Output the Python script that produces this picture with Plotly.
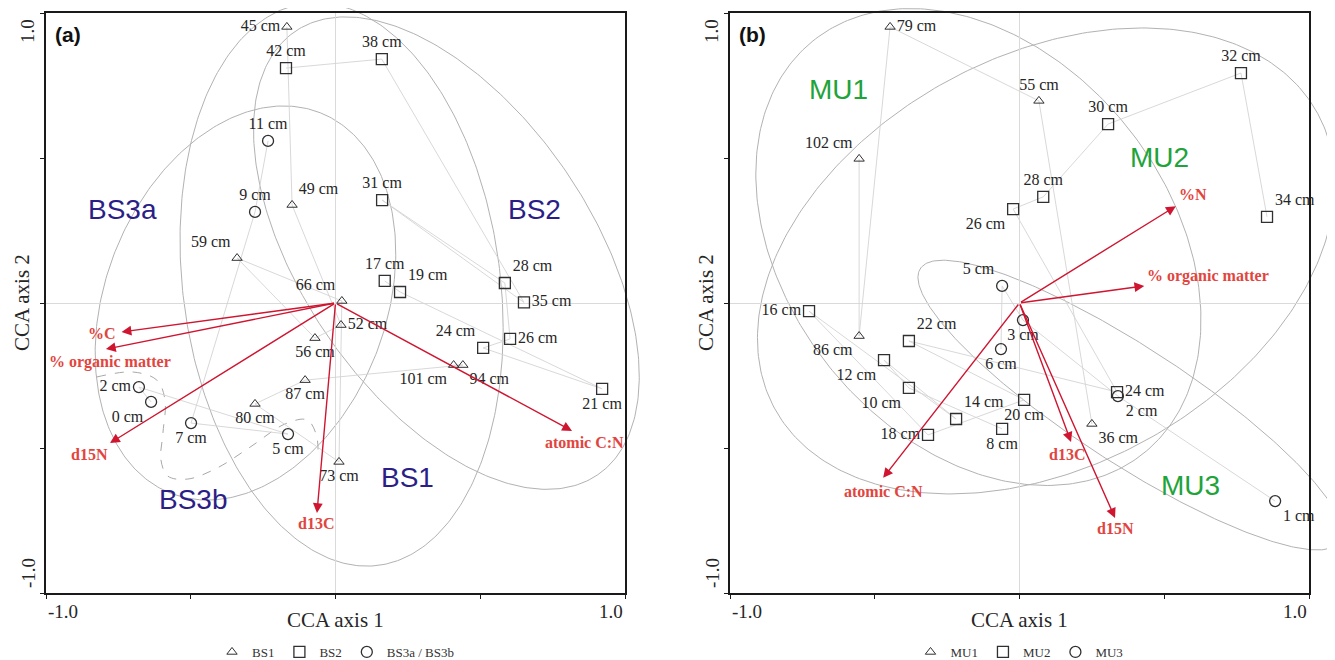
import numpy as np
import plotly.graph_objects as go

W, H = 1335, 660
OFF = 8  # page body margin of the viewer, compensated in the layout

# ---------------- panel (a) data ----------------
BS1_DEPTH = [45, 49, 52, 56, 59, 66, 73, 80, 87, 94, 101]
BS1_X = [-0.168, -0.150, 0.019, -0.071, -0.340, 0.022, 0.012, -0.278, -0.105, 0.440, 0.408]
BS1_Y = [0.952, 0.338, -0.076, -0.121, 0.155, 0.007, -0.548, -0.348, -0.266, -0.214, -0.214]
BS1_POS = ['middle left', 'top right', 'middle right', 'bottom center', 'top left', 'top left',
           'bottom center', 'bottom center', 'bottom center', 'bottom right', 'bottom left']

BS2_DEPTH = [17, 19, 21, 24, 26, 28, 31, 35, 38, 42]
BS2_X = [0.170, 0.223, 0.921, 0.510, 0.603, 0.585, 0.161, 0.651, 0.160, -0.171]
BS2_Y = [0.076, 0.038, -0.296, -0.155, -0.124, 0.069, 0.355, 0.002, 0.841, 0.810]
BS2_POS = ['top center', 'top right', 'bottom center', 'top left', 'middle right', 'top right',
           'top center', 'middle right', 'top center', 'top center']

BS3_DEPTH = [0, 2, 5, 7, 9, 11]
BS3_X = [-0.637, -0.679, -0.164, -0.499, -0.278, -0.233]
BS3_Y = [-0.341, -0.290, -0.452, -0.414, 0.314, 0.559]
BS3_POS = ['bottom left', 'middle left', 'bottom center', 'bottom center', 'top center', 'top center']

A_VARS = ['%C', '% organic matter', 'd15N', 'd13C', 'atomic C:N']
A_VX = [-0.739, -0.793, -0.779, -0.064, 0.817]
A_VY = [-0.100, -0.159, -0.483, -0.724, -0.441]

# ellipses: centre x, centre y, semi-major, semi-minor, angle (deg)
BS1_ELL = (0.021, 0.064, 0.977, 0.548, 97.5)
BS2_ELL = (0.383, 0.172, 0.926, 0.500, -55.6)
BS3A_ELL = (-0.311, 0.000, 0.705, 0.484, 68.5)
# hand-drawn BS3b outline
BS3B_X = [-0.824, -0.699, -0.617, -0.589, -0.596, -0.603, -0.579, -0.510, -0.409, -0.295,
          -0.174, -0.098, -0.067, -0.060]
BS3B_Y = [-0.255, -0.238, -0.266, -0.334, -0.448, -0.541, -0.597, -0.607, -0.569, -0.497,
          -0.417, -0.403, -0.452, -0.514]

A_GROUP_TEXT = ['BS3a', 'BS2', 'BS3b', 'BS1']
A_GROUP_X = [-0.736, 0.686, -0.489, 0.249]
A_GROUP_Y = [0.321, 0.321, -0.679, -0.603]

# ---------------- panel (b) data ----------------
MU1_DEPTH = [36, 55, 79, 86, 102]
MU1_X = [0.250, 0.067, -0.447, -0.554, -0.554]
MU1_Y = [-0.417, 0.697, 0.952, -0.114, 0.497]
MU1_POS = ['bottom right', 'top center', 'middle right', 'bottom left', 'top left']

MU2_DEPTH = [8, 10, 12, 14, 16, 18, 20, 22, 24, 26, 28, 30, 32, 34]
MU2_X = [-0.060, -0.382, -0.468, -0.219, -0.727, -0.316, 0.016, -0.382, 0.337, -0.022,
         0.082, 0.306, 0.765, 0.855]
MU2_Y = [-0.434, -0.293, -0.197, -0.400, -0.028, -0.455, -0.334, -0.131, -0.307, 0.324,
         0.366, 0.617, 0.793, 0.297]
MU2_POS = ['bottom center', 'bottom left', 'bottom left', 'top right', 'middle left', 'middle left',
           'bottom center', 'top right', 'middle right', 'bottom left', 'top center', 'top center',
           'top center', 'top right']

MU3_DEPTH = [1, 2, 3, 5, 6]
MU3_X = [0.883, 0.340, 0.012, -0.060, -0.064]
MU3_Y = [-0.683, -0.321, -0.059, 0.059, -0.159]
MU3_POS = ['bottom right', 'bottom right', 'bottom center', 'top left', 'bottom center']

B_VARS = ['%N', '% organic matter', 'atomic C:N', 'd13C', 'd15N']
B_VX = [0.540, 0.431, -0.471, 0.178, 0.330]
B_VY = [0.334, 0.059, -0.603, -0.479, -0.741]

MU1_ELL = (-0.142, 0.193, 0.912, 0.660, 128.8)
MU2_ELL = (0.092, 0.145, 1.067, 0.708, 28.4)
MU3_ELL = (0.382, -0.352, 0.864, 0.200, -33.0)

B_GROUP_TEXT = ['MU1', 'MU2', 'MU3']
B_GROUP_X = [-0.625, 0.485, 0.589]
B_GROUP_Y = [0.736, 0.503, -0.631]

# ---------------- styling ----------------
SERIF = 'Liberation Serif, Times New Roman, serif'
SANS = 'Liberation Sans, Arial, sans-serif'
INK = '#262626'
ELL_COLOR = '#b2b2b2'
LINK_COLOR = '#d4d4d4'
ARROW_COLOR = '#cf1530'
VAR_COLOR = '#e2443e'

A_DOM = [(46 - OFF) / W, (625 - OFF) / W]
B_DOM = [(730 - OFF) / W, (1309 - OFF) / W]
Y_DOM = [1 - (593 - OFF) / H, 1 - (13 - OFF) / H]

# label placement for variable names (anchor, xshift, yshift)
A_VAR_PLACE = [('right', -4, -1), ('center', 4, -13), ('right', 0, -11), ('center', -1, -11), ('center', 12, -12)]
B_VAR_PLACE = [('left', 1, 12), ('left', 1, 10), ('center', 0, -14), ('center', -4, -13), ('center', 0, -11)]


def overlay_range(dom):
    span = 2.0 / (dom[1] - dom[0])
    return [-1 - dom[0] * span, -1 + (1 - dom[0]) * span]


def ellipse_xy(e, n=361):
    cx, cy, a, b, ang = e
    t = np.linspace(0, 2 * np.pi, n)
    th = np.deg2rad(ang)
    x = cx + a * np.cos(t) * np.cos(th) - b * np.sin(t) * np.sin(th)
    y = cy + a * np.cos(t) * np.sin(th) + b * np.sin(t) * np.cos(th)
    return x, y


fig = go.Figure()

panels = [
    dict(ov=('x', 'y'), ax=('x3', 'y3'), legend='legend',
         ellipses=[BS1_ELL, BS2_ELL, BS3A_ELL],
         groups=[('BS1', BS1_DEPTH, BS1_X, BS1_Y, BS1_POS, 'triangle-up-open', 9),
                 ('BS2', BS2_DEPTH, BS2_X, BS2_Y, BS2_POS, 'square-open', 11),
                 ('BS3a / BS3b', BS3_DEPTH, BS3_X, BS3_Y, BS3_POS, 'circle-open', 11)],
         vars=(A_VARS, A_VX, A_VY, A_VAR_PLACE),
         gtext=(A_GROUP_TEXT, A_GROUP_X, A_GROUP_Y, '#2b1f87'),
         letter='(a)'),
    dict(ov=('x2', 'y2'), ax=('x4', 'y4'), legend='legend2',
         ellipses=[MU1_ELL, MU2_ELL, MU3_ELL],
         groups=[('MU1', MU1_DEPTH, MU1_X, MU1_Y, MU1_POS, 'triangle-up-open', 9),
                 ('MU2', MU2_DEPTH, MU2_X, MU2_Y, MU2_POS, 'square-open', 11),
                 ('MU3', MU3_DEPTH, MU3_X, MU3_Y, MU3_POS, 'circle-open', 11)],
         vars=(B_VARS, B_VX, B_VY, B_VAR_PLACE),
         gtext=(B_GROUP_TEXT, B_GROUP_X, B_GROUP_Y, '#1fa33b'),
         letter='(b)'),
]

annotations = []
for p in panels:
    ox, oy = p['ov']
    xr, yr = p['ax']
    # ellipses on full-figure overlay axes (not clipped at the frame)
    for e in p['ellipses']:
        ex, ey = ellipse_xy(e)
        fig.add_trace(go.Scatter(x=ex, y=ey, xaxis=ox, yaxis=oy, mode='lines',
                                 line=dict(color=ELL_COLOR, width=1), hoverinfo='skip',
                                 showlegend=False))
    if p['letter'] == '(a)':
        fig.add_trace(go.Scatter(x=BS3B_X, y=BS3B_Y, xaxis=xr, yaxis=yr, mode='lines',
                                 line=dict(color='#a8a8a8', width=1, dash='dash', shape='spline'),
                                 hoverinfo='skip', showlegend=False))
    # links between consecutive depths
    for name, dep, gx, gy, pos, sym, size in p['groups']:
        fig.add_trace(go.Scatter(x=gx, y=gy, xaxis=xr, yaxis=yr, mode='lines',
                                 line=dict(color=LINK_COLOR, width=0.9), hoverinfo='skip',
                                 showlegend=False))
    for name, dep, gx, gy, pos, sym, size in p['groups']:
        lw = 1.0 if sym.startswith('triangle') else 1.3
        fig.add_trace(go.Scatter(x=gx, y=gy, xaxis=xr, yaxis=yr, mode='markers', name=name,
                                 legend=p['legend'],
                                 marker=dict(symbol=sym, size=size, color='#303030',
                                             line=dict(width=lw, color='#303030'))))
        fig.add_trace(go.Scatter(x=gx, y=gy, xaxis=xr, yaxis=yr, mode='markers+text',
                                 text=[f'{d} cm' for d in dep], textposition=pos,
                                 textfont=dict(family=SERIF, size=16, color=INK),
                                 marker=dict(size=size, color='rgba(0,0,0,0)'),
                                 cliponaxis=False, hoverinfo='skip', showlegend=False))
    # environmental variable arrows
    names, vx, vy, place = p['vars']
    for nm, x1, y1, (anc, xs, ys) in zip(names, vx, vy, place):
        annotations.append(dict(x=x1, y=y1, xref=xr, yref=yr, ax=0, ay=0, axref=xr, ayref=yr,
                                text='', showarrow=True, arrowhead=2, arrowsize=1.4,
                                arrowwidth=1.4, arrowcolor=ARROW_COLOR, standoff=0))
        annotations.append(dict(x=x1, y=y1, xref=xr, yref=yr, text=nm, showarrow=False,
                                xanchor=anc, yanchor='middle', xshift=xs, yshift=ys,
                                font=dict(family=SERIF, size=16, color=VAR_COLOR, weight='bold')))
    # group names
    gt, gxs, gys, gcol = p['gtext']
    for t, gx, gy in zip(gt, gxs, gys):
        annotations.append(dict(x=gx, y=gy, xref=xr, yref=yr, text=t, showarrow=False,
                                font=dict(family=SANS, size=28, color=gcol)))
    # panel letter
    annotations.append(dict(x=-1, y=1, xref=xr, yref=yr, text='<b>' + p['letter'] + '</b>',
                            showarrow=False, xanchor='left', yanchor='top', xshift=7, yshift=-8,
                            font=dict(family=SANS, size=21, color='#111')))
    # tick labels
    tf = dict(family=SERIF, size=19, color=INK)
    annotations += [
        dict(x=-1, y=-1, xref=xr, yref=yr, text='-1.0', showarrow=False, xanchor='left',
             yanchor='middle', yshift=-18, font=tf),
        dict(x=1, y=-1, xref=xr, yref=yr, text='1.0', showarrow=False, xanchor='right',
             yanchor='middle', yshift=-18, font=tf),
        dict(x=-1, y=1, xref=xr, yref=yr, text='1.0', showarrow=False, textangle=-90,
             xanchor='center', yanchor='top', xshift=-18, yshift=-4, font=tf),
        dict(x=-1, y=-1, xref=xr, yref=yr, text='-1.0', showarrow=False, textangle=-90,
             xanchor='center', yanchor='bottom', xshift=-18, yshift=3, font=tf),
        dict(x=0, y=-1, xref=xr, yref=yr, text='CCA axis 1', showarrow=False,
             yanchor='middle', yshift=-27, font=dict(family=SERIF, size=21, color=INK)),
        dict(x=-1, y=0, xref=xr, yref=yr, text='CCA axis 2', showarrow=False, textangle=-90,
             xanchor='center', xshift=-24, font=dict(family=SERIF, size=21, color=INK)),
    ]

axis_common = dict(range=[-1, 1], showgrid=False, zeroline=True, zerolinecolor='#dadada',
                   zerolinewidth=1, showline=True, mirror=True, linecolor='#1a1a1a', linewidth=1.5,
                   ticks='outside', ticklen=4, tickwidth=1.2, tickcolor='#1a1a1a',
                   tickvals=[-1, -0.5, 0, 0.5, 1], showticklabels=False, fixedrange=True)

legend_common = dict(orientation='h', yanchor='middle', y=1 - (652 - OFF) / H, xanchor='center',
                     font=dict(family=SERIF, size=13, color='#333'), bgcolor='rgba(0,0,0,0)',
                     itemwidth=30, traceorder='normal')

fig.update_layout(
    width=W, height=H,
    margin=dict(l=0, r=0, t=0, b=0),
    paper_bgcolor='white', plot_bgcolor='rgba(0,0,0,0)',
    xaxis=dict(domain=[0, 1], range=overlay_range(A_DOM), visible=False, anchor='y', fixedrange=True),
    yaxis=dict(domain=[0, 1], range=overlay_range(Y_DOM), visible=False, anchor='x', fixedrange=True),
    xaxis2=dict(domain=[0, 1], range=overlay_range(B_DOM), visible=False, anchor='y2', fixedrange=True),
    yaxis2=dict(domain=[0, 1], range=overlay_range(Y_DOM), visible=False, anchor='x2', fixedrange=True),
    xaxis3=dict(domain=A_DOM, anchor='y3', **axis_common),
    yaxis3=dict(domain=Y_DOM, anchor='x3', **axis_common),
    xaxis4=dict(domain=B_DOM, anchor='y4', **axis_common),
    yaxis4=dict(domain=Y_DOM, anchor='x4', **axis_common),
    legend=dict(x=(A_DOM[0] + A_DOM[1]) / 2, **legend_common),
    legend2=dict(x=(B_DOM[0] + B_DOM[1]) / 2, **legend_common),
    annotations=annotations,
    hovermode=False,
)

fig.write_html("out.html")
